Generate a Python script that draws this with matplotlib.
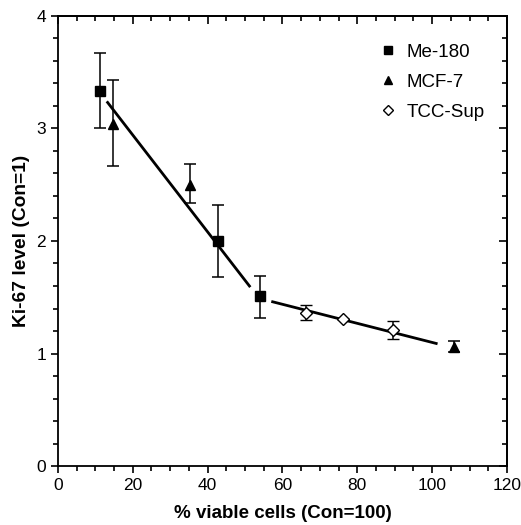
import matplotlib
matplotlib.use("Agg")
import matplotlib.pyplot as plt
from matplotlib.ticker import MultipleLocator, NullFormatter

plt.rcParams['font.family'] = ['Liberation Sans', 'DejaVu Sans']

# Me-180
me_x = [11.2, 42.9, 53.9]
me_y = [3.33, 2.00, 1.51]
me_lo = [0.33, 0.32, 0.19]
me_hi = [0.34, 0.32, 0.18]

# MCF-7
mcf_x = [14.7, 35.2, 105.9]
mcf_y = [3.04, 2.50, 1.06]
mcf_lo = [0.37, 0.16, 0.05]
mcf_hi = [0.39, 0.18, 0.05]

# TCC-Sup
tcc_x = [66.4, 76.3, 89.6]
tcc_y = [1.36, 1.31, 1.21]
tcc_lo = [0.06, 0.0, 0.08]
tcc_hi = [0.07, 0.0, 0.08]

# fitted lines
fit1_x = [13.3, 51.2]
fit1_y = [3.23, 1.60]
fit2_x = [57.4, 101.1]
fit2_y = [1.46, 1.09]

fig = plt.figure(figsize=(5.21, 5.25), dpi=100)
ax = fig.add_axes([0.111, 0.112, 0.862, 0.858])

ax.plot(fit1_x, fit1_y, color='black', lw=2)
ax.plot(fit2_x, fit2_y, color='black', lw=2)

eb = dict(ecolor='black', elinewidth=1.1, capsize=4, capthick=1.1, linestyle='none')
ax.errorbar(me_x, me_y, yerr=[me_lo, me_hi], marker='s', ms=7, mfc='black', mec='black', **eb)
ax.errorbar(mcf_x, mcf_y, yerr=[mcf_lo, mcf_hi], marker='^', ms=7, mfc='black', mec='black', **eb)
ax.errorbar(tcc_x, tcc_y, yerr=[tcc_lo, tcc_hi], marker='D', ms=6, mfc='white', mec='black', mew=1, **eb)

# legend
ax.plot([], [], 's', color='black', ms=6, label='Me-180')
ax.plot([], [], '^', color='black', ms=6, label='MCF-7')
ax.plot([], [], 'D', mfc='white', mec='black', ms=5, label='TCC-Sup')
h, l = ax.get_legend_handles_labels()
ax.legend(h[-3:], l[-3:], loc='upper right', frameon=False, fontsize=13.5,
          handlelength=1.0, handletextpad=0.5, labelspacing=0.68,
          bbox_to_anchor=(0.988, 0.975))

ax.set_xlim(0, 120)
ax.set_ylim(0, 4)
ax.xaxis.set_major_locator(MultipleLocator(20))
ax.xaxis.set_minor_locator(MultipleLocator(5))
ax.yaxis.set_major_locator(MultipleLocator(1))
ax.yaxis.set_minor_locator(MultipleLocator(0.2))
ax.tick_params(which='both', direction='out', width=1.2, labelsize=12.5)
ax.tick_params(which='major', length=5)
ax.tick_params(which='minor', length=3.5)

# top / right ticks point inward
top = ax.secondary_xaxis('top')
top.xaxis.set_major_locator(MultipleLocator(20))
top.xaxis.set_minor_locator(MultipleLocator(5))
top.xaxis.set_major_formatter(NullFormatter())
top.tick_params(which='both', direction='in', width=1.2)
top.tick_params(which='major', length=6)
top.tick_params(which='minor', length=3.5)
right = ax.secondary_yaxis('right')
right.yaxis.set_major_locator(MultipleLocator(1))
right.yaxis.set_minor_locator(MultipleLocator(0.2))
right.yaxis.set_major_formatter(NullFormatter())
right.tick_params(which='both', direction='in', width=1.2)
right.tick_params(which='major', length=6)
right.tick_params(which='minor', length=3.5)

for s in ax.spines.values():
    s.set_linewidth(1.3)
top.spines['top'].set_linewidth(1.3)
right.spines['right'].set_linewidth(1.3)

ax.set_xlabel('% viable cells (Con=100)', fontsize=13.5, fontweight='bold', va='center')
ax.set_ylabel('Ki-67 level (Con=1)', fontsize=13.8, fontweight='bold', va='center')
ax.xaxis.set_label_coords(0.5, -0.105)
ax.yaxis.set_label_coords(-0.082, 0.5)

fig.savefig('out.png', dpi=100)
